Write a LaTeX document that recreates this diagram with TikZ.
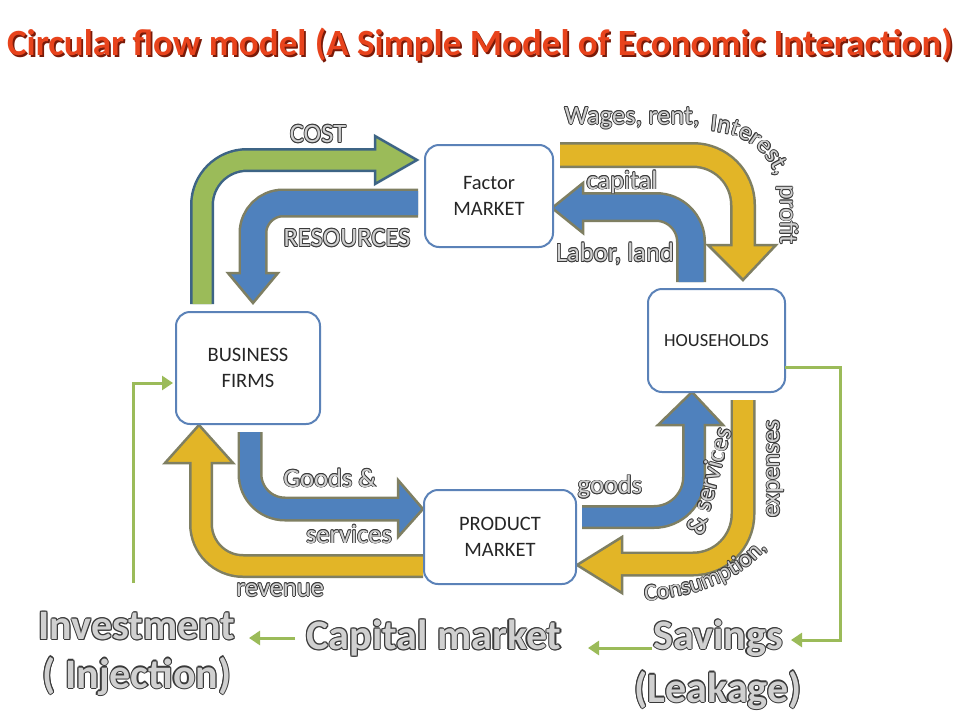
\documentclass[tikz,border=0pt]{standalone}
\usepackage{fontspec}
\setmainfont{Carlito}
\usetikzlibrary{arrows.meta,decorations.text}
\definecolor{bx}{HTML}{5B82B8}
\definecolor{gfill}{HTML}{9BBB59}
\definecolor{gout}{HTML}{3D6485}
\definecolor{bfill}{HTML}{4F81BD}
\definecolor{yfill}{HTML}{E2B527}
\definecolor{olv}{HTML}{7F7F62}
\definecolor{olc}{HTML}{3A3A3A}
\definecolor{txf}{HTML}{D0D0D0}
\definecolor{ttl}{HTML}{E8431C}
\definecolor{ttls}{HTML}{7A1A08}
\definecolor{lg}{HTML}{9BBB59}
\newlength\olx \newlength\oly
\newcommand\outl[2][0.8pt]{{\setlength\olx{#1}\setlength\oly{0.7\olx}\setbox0\hbox{#2}%
  \rlap{\color{olc}\kern\olx\copy0}%
  \rlap{\color{olc}\kern-\olx\copy0}%
  \rlap{\color{olc}\raise\olx\copy0}%
  \rlap{\color{olc}\lower\olx\copy0}%
  \rlap{\color{olc}\kern\oly\raise\oly\copy0}%
  \rlap{\color{olc}\kern-\oly\raise\oly\copy0}%
  \rlap{\color{olc}\kern\oly\lower\oly\copy0}%
  \rlap{\color{olc}\kern-\oly\lower\oly\copy0}%
  {\color{txf}\copy0}}}
\newcommand\band[6]{%
  \draw[#2, line width=#3pt+5pt, rounded corners=#4pt] #5;
  \filldraw[fill=#1, draw=#2, line width=2.5pt, line join=miter] #6;
  \draw[#1, line width=#3pt, rounded corners=#4pt] #5;}
\newcommand\curved[3]{%
  \foreach \dx/\dy in {0.8/0,-0.8/0,0/0.8,0/-0.8,0.57/0.57,-0.57/0.57,0.57/-0.57,-0.57/-0.57}{%
    \path[shift={(\dx,\dy)}, decorate, decoration={text along path, text color=olc, text={|\fontsize{#1}{#1}\selectfont|#3}}] #2;}
  \path[decorate, decoration={text along path, text color=txf, text={|\fontsize{#1}{#1}\selectfont|#3}}] #2;}
\tikzset{
  box/.style={draw=bx, line width=2pt, rounded corners=14pt, fill=white, align=center,
    font=\fontsize{20.5}{26}\selectfont, text=black!85, inner sep=0pt},
  lbl/.style={font=\fontsize{26.5}{30}\selectfont, inner sep=0pt},
  big/.style={font=\bfseries\fontsize{42}{48}\selectfont, inner sep=0pt},
  gline/.style={draw=lg, line width=3pt, line join=miter},
  garrow/.style={gline, -{Triangle[width=14pt,length=11pt]}}
}
\begin{document}
\begin{tikzpicture}[x=1pt,y=-1pt]
\useasboundingbox (0,0) rectangle (960,720);
\fill[white] (0,0) rectangle (960,720);
% title
\node[font=\bfseries\fontsize{37}{42}\selectfont, text=ttls, inner sep=0pt] (ttlsh) at (481.8,46.8) {Circular flow model (A Simple Model of Economic Interaction)};
\node[font=\bfseries\fontsize{37}{42}\selectfont, text=ttl, inner sep=0pt] (title) at (480,45) {Circular flow model (A Simple Model of Economic Interaction)};
% band arrows
\band{gfill}{gout}{19}{45}{(202,304) -- (202,160) -- (378,160)}{(375,136) -- (417,160) -- (375,184) -- cycle}
\band{bfill}{olv}{24}{30}{(418,203) -- (253,203) -- (253,276)}{(228,273) -- (253,303) -- (278,273) -- cycle}
\band{yfill}{olv}{21}{50}{(560,155) -- (743,155) -- (743,248)}{(708,245) -- (743,280) -- (776,245) -- cycle}
\band{bfill}{olv}{25}{35}{(691,282) -- (691,207) -- (580,207)}{(583,183) -- (552,208) -- (583,233) -- cycle}
\band{yfill}{olv}{19}{42}{(423,566) -- (201,566) -- (201,460)}{(165,463) -- (199,425) -- (233,463) -- cycle}
\band{bfill}{olv}{20}{35}{(250,432) -- (250,509) -- (401,509)}{(398,480) -- (423,509) -- (398,537) -- cycle}
\band{bfill}{olv}{19}{40}{(582,517) -- (694,517) -- (694,422)}{(658,425) -- (692,392) -- (723,425) -- cycle}
\band{yfill}{olv}{20}{50}{(743,400) -- (743,564) -- (619,564)}{(622,537) -- (577,565) -- (622,593) -- cycle}
% boxes
\node[box, minimum width=128pt, minimum height=102pt] (fm) at (489,196) {Factor\\MARKET};
\node[box, minimum width=137pt, minimum height=103pt, font=\fontsize{18.5}{26}\selectfont] (hh) at (716.5,340.5) {HOUSEHOLDS};
\node[box, minimum width=144pt, minimum height=112pt] (bf) at (248,368) {BUSINESS\\FIRMS};
\node[box, minimum width=152pt, minimum height=94pt] (pm) at (500,537) {PRODUCT\\MARKET};
% labels
\node[lbl] (cost) at (318,134) {\outl{COST}};
\node[lbl] (res) at (347,238) {\outl{RESOURCES}};
\node[lbl] (wages) at (632,118) {\outl{Wages, rent,}};
\node[lbl] (capl) at (622,182) {\outl{capital}};
\node[lbl] (labor) at (615,254) {\outl{Labor, land}};
\node[lbl] (goodsa) at (330,478) {\outl{Goods \&}};
\node[lbl] (servs) at (349,534) {\outl{services}};
\node[lbl] (rev) at (280,590) {\outl{revenue}};
\node[lbl] (goods) at (610,487) {\outl{goods}};
\node[lbl, rotate=75] (andserv) at (709,481) {\outl{\& services}};
\node[lbl, rotate=-90, font=\fontsize{26}{30}\selectfont] (profit) at (787,215) {\outl{profit}};
\node[lbl, rotate=90, font=\fontsize{26}{30}\selectfont] (expen) at (775,469) {\outl{expenses}};
\curved{25}{(710,131) .. controls (750,134) and (779,158) .. (781,200)}{Interest,}
\curved{24}{(645,601) .. controls (700,597) and (760,575) .. (781,525) -- (781,500)}{Consumption,}
% bottom texts
\node[big] (inv) at (137,626) {\outl[1.1pt]{Investment}};
\node[big] (inj) at (137,676) {\outl[1.1pt]{( Injection)}};
\node[big] (cap) at (434,638) {\outl[1.1pt]{Capital market}};
\node[big] (sav) at (718,638) {\outl[1.1pt]{Savings}};
\node[big] (leak) at (718,690) {\outl[1.1pt]{(Leakage)}};
% thin green connectors
\coordinate (h1) at (785,367);
\coordinate (h2) at (840,367);
\coordinate (h3) at (840,640);
\coordinate (s1) at (791,640);
\coordinate (s2) at (652,648);
\coordinate (c1) at (588,648);
\coordinate (c2) at (295,638);
\coordinate (i1) at (249,638);
\coordinate (i2) at (133,583);
\coordinate (i3) at (133,383);
\coordinate (b1) at (173,383);
\draw[garrow] (h1) -- (h2) -- (h3) -- (s1);
\draw[garrow] (s2) -- (c1);
\draw[garrow] (c2) -- (i1);
\draw[garrow] (i2) -- (i3) -- (b1);
\end{tikzpicture}
\end{document}
